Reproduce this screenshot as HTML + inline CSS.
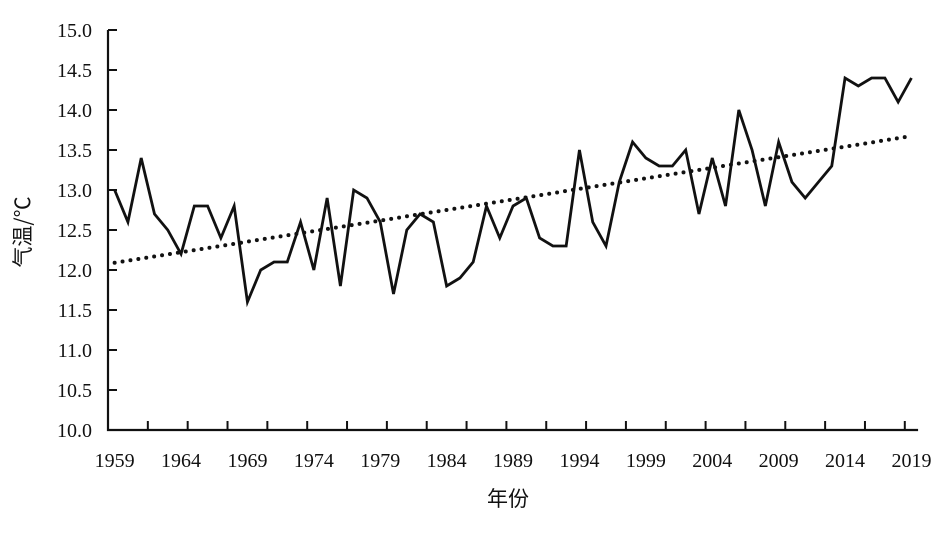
<!DOCTYPE html>
<html><head><meta charset="utf-8"><style>
html,body{margin:0;padding:0;background:#fff;}
svg text{font-family:"Liberation Serif","Noto Serif CJK SC",serif;fill:#111;}
</style></head><body>
<svg width="945" height="531" xmlns="http://www.w3.org/2000/svg">
<g id="axes"></g><g id="marks"></g>
<text x="508" y="506" text-anchor="middle" font-size="21" style="font-family:'Noto Sans CJK SC',sans-serif">年份</text>
<text transform="translate(30,232) rotate(-90)" text-anchor="middle" font-size="21" style="font-family:'Noto Sans CJK SC',sans-serif">气温/℃</text>
</svg>
<script>
const years = [];
for (let y = 1959; y <= 2019; y++) years.push(y);
const temps = [13.0,12.6,13.4,12.7,12.5,12.2,12.8,12.8,12.4,12.8,11.6,12.0,12.1,12.1,12.6,12.0,12.9,11.8,13.0,12.9,12.6,11.7,12.5,12.7,12.6,11.8,11.9,12.1,12.8,12.4,12.8,12.9,12.4,12.3,12.3,13.5,12.6,12.3,13.1,13.6,13.4,13.3,13.3,13.5,12.7,13.4,12.8,14.0,13.5,12.8,13.6,13.1,12.9,13.1,13.3,14.4,14.3,14.4,14.4,14.1,14.4];
const yTicks = ["10.0","10.5","11.0","11.5","12.0","12.5","13.0","13.5","14.0","14.5","15.0"];
const xLabels = [1959,1964,1969,1974,1979,1984,1989,1994,1999,2004,2009,2014,2019];

const NS = "http://www.w3.org/2000/svg";
const x0 = 108, step = 13.28, yBase = 430, yTop = 30, vMin = 10, vMax = 15;
const X = i => x0 + step * (i + 0.5);
const Y = v => yBase - (v - vMin) / (vMax - vMin) * (yBase - yTop);
const axes = document.getElementById("axes"), marks = document.getElementById("marks");
function mk(tag, attrs, parent) { const e = document.createElementNS(NS, tag); for (const k in attrs) e.setAttribute(k, attrs[k]); parent.appendChild(e); return e; }

const n = years.length;
const xEnd = x0 + step * n;
let ax = mk("path", {d:`M${x0},${yTop} V${yBase} H${xEnd}`, stroke:"#111", "stroke-width":2.2, fill:"none"}, axes);


yTicks.forEach(t => {
  const y = Y(parseFloat(t));
  const tk = mk("line", {x1:x0, x2:x0+9, y1:y, y2:y, stroke:"#111", "stroke-width":2}, axes);
  
  
  const tx = mk("text", {x:92, y:y+7, "text-anchor":"end", "font-size":20}, axes);
  tx.textContent = t;
  
  
});
for (let i = 3; i <= n; i += 3) {
  const x = x0 + step * i;
  const tk = mk("line", {x1:x, x2:x, y1:yBase, y2:yBase-9, stroke:"#111", "stroke-width":2}, axes);
  
  
}
xLabels.forEach(yr => {
  const i = years.indexOf(yr);
  const tx = mk("text", {x:X(i), y:467, "text-anchor":"middle", "font-size":20}, axes);
  tx.textContent = yr;
  
  
});
// trend line (least squares)
let sx=0, sy=0, sxx=0, sxy=0;
temps.forEach((v,i)=>{sx+=i; sy+=v; sxx+=i*i; sxy+=i*v;});
const b = (n*sxy - sx*sy)/(n*sxx - sx*sx), a = (sy - b*sx)/n;
const tr = mk("line", {x1:X(0), y1:Y(a), x2:X(n-1), y2:Y(a+b*(n-1)), stroke:"#111", "stroke-width":4, "stroke-dasharray":"0 8", "stroke-linecap":"round"}, marks);


const pl = mk("polyline", {points: temps.map((v,i)=>`${X(i)},${Y(v)}`).join(" "), fill:"none", stroke:"#111", "stroke-width":2.8, "stroke-linejoin":"miter"}, marks);


</script>
</body></html>
